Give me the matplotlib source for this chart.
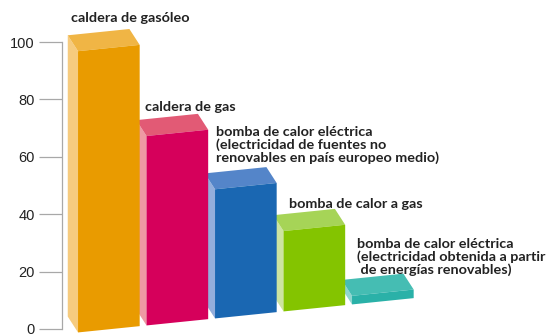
import numpy as np
import matplotlib.pyplot as plt
from matplotlib.patches import Polygon
from matplotlib.transforms import Affine2D

# datos
labels = [
    'caldera de gasóleo',
    'caldera de gas',
    'bomba de calor eléctrica\n(electricidad de fuentes no\nrenovables en país europeo medio)',
    'bomba de calor a gas',
    'bomba de calor eléctrica\n(electricidad obtenida a partir\n de energías renovables)',
]
values = [98, 66, 45, 28, 3]
front_colors = ['#E99B00', '#D6005B', '#1A67B2', '#84C400', '#2AB1A8']
side_colors = ['#F6CB7E', '#EE99A3', '#93AEDC', '#CDE4A0', '#8FD6CF']
top_colors = ['#F0B545', '#E25A75', '#5485C9', '#A6D457', '#45BDB3']
yticks = [0, 20, 40, 60, 80, 100]

W, H = 558, 336
fig = plt.figure(figsize=(W / 100, H / 100), dpi=100)
ax = fig.add_axes([62 / W, 7 / H, (W - 62) / W, 287 / H])
ax.set_xlim(-0.234, 7.007)
ax.set_ylim(0, 100)

for s in ['top', 'right', 'bottom']:
    ax.spines[s].set_visible(False)
ax.spines['left'].set_color('#a8a8a8')
ax.spines['left'].set_linewidth(0.9)
ax.set_xticks([])
ax.set_yticks(yticks)
ax.tick_params(axis='y', length=16.5, width=0.9, color='#a8a8a8', pad=3,
               labelsize=10.5, labelcolor='#222222')
for t in ax.get_yticklabels():
    t.set_family('Liberation Sans')

# barras pseudo-3D con perspectiva inclinada
FRONT_W = 0.9
DX, DY = -0.15, 5.9
SHEAR = 2.44
SINK = -1.2
tr = Affine2D(np.array([[1, 0, 0], [SHEAR, 1, SINK], [0, 0, 1]])) + ax.transData

for i in reversed(range(len(values))):
    v = values[i]
    x0, x1 = i, i + FRONT_W
    side = [(x0, 0), (x0, v), (x0 + DX, v + DY), (x0 + DX, DY)]
    top = [(x0, v), (x1, v), (x1 + DX, v + DY), (x0 + DX, v + DY)]
    front = [(x0, 0), (x1, 0), (x1, v), (x0, v)]
    for pts, c in [(side, side_colors[i]), (top, top_colors[i]), (front, front_colors[i])]:
        ax.add_patch(Polygon(pts, closed=True, facecolor=c, edgecolor='none',
                             transform=tr, clip_on=False))

# etiquetas (posición en píxeles: izquierda, arriba)
label_pos = [(71, 12), (145, 101), (216, 126), (289, 198), (357, 238)]
for txt, (px, py) in zip(labels, label_pos):
    fig.text(px / W, 1 - py / H, txt, ha='left', va='top', fontsize=10.4,
             family='Lato', fontweight='bold', color='#222222',
             linespacing=1.04)

fig.savefig('out.png', dpi=100)
